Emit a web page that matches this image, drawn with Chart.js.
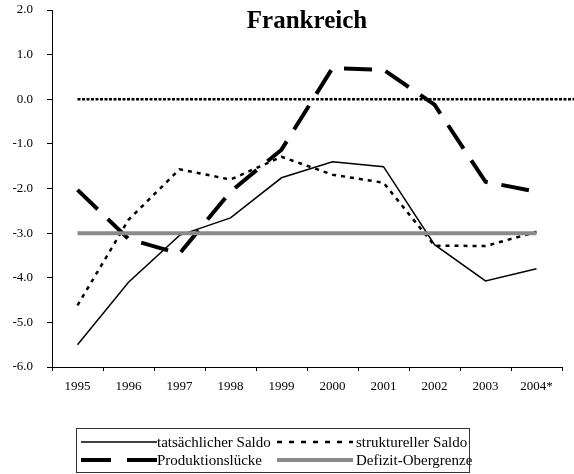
<!DOCTYPE html>
<html>
<head>
<meta charset="utf-8">
<script src="https://cdn.jsdelivr.net/npm/chart.js"></script>
<style>
  body { margin: 0; background: #fff; }
</style>
</head>
<body>
<canvas id="chartFrankreich" width="574" height="474"></canvas>
<script>
// Daten aus der Vorlage
var jahre = ['1995', '1996', '1997', '1998', '1999', '2000', '2001', '2002', '2003', '2004*'];
var tatsaechlicherSaldo = [-5.5, -4.1, -3.05, -2.66, -1.76, -1.4, -1.51, -3.26, -4.07, -3.8];
var strukturellerSaldo = [-4.62, -2.7, -1.57, -1.8, -1.29, -1.69, -1.87, -3.28, -3.29, -2.97];
var produktionsluecke = [-2.03, -3.13, -3.46, -2.07, -1.13, 0.7, 0.66, -0.12, -1.85, -2.07];
var defizitObergrenze = [-3, -3, -3, -3, -3, -3, -3, -3, -3, -3];
var nullLinie = 0;
var titel = 'Frankreich';

var schrift = "'Liberation Serif', 'DejaVu Serif', serif";

// Titel und Nulllinie (gepunktet, läuft bis zum rechten Rand)
var extrasPlugin = {
    id: 'extras',
    beforeDatasetsDraw: function (chart) {
        var ctx = chart.ctx;
        var x = chart.scales.x, y = chart.scales.y;
        ctx.save();
        ctx.strokeStyle = '#000';
        ctx.lineWidth = 2.5;
        ctx.setLineDash([3, 1.5]);
        ctx.beginPath();
        var y0 = y.getPixelForValue(nullLinie);
        ctx.moveTo(x.getPixelForValue(0), y0);
        ctx.lineTo(chart.width, y0);
        ctx.stroke();
        ctx.restore();
    },
    afterDraw: function (chart) {
        var ctx = chart.ctx;
        var area = chart.chartArea;
        ctx.save();
        ctx.fillStyle = '#000';
        ctx.font = 'bold 25px ' + schrift;
        ctx.textAlign = 'center';
        ctx.textBaseline = 'alphabetic';
        ctx.fillText(titel, (area.left + area.right) / 2, area.top + 18);
        ctx.restore();
    }
};

// Legende mit Rahmen unter dem Diagramm
var legendePlugin = {
    id: 'legende',
    afterDraw: function (chart) {
        var ctx = chart.ctx;
        var ds = chart.data.datasets;
        var box = { left: 76.5, top: 428.5, width: 393, height: 44 };
        var spalten = [81, 277];
        var zeilen = [442, 460];
        var laenge = 76;
        ctx.save();
        ctx.strokeStyle = '#333';
        ctx.lineWidth = 1;
        ctx.setLineDash([]);
        ctx.strokeRect(box.left, box.top, box.width, box.height);
        ctx.font = '15px ' + schrift;
        ctx.fillStyle = '#000';
        ctx.textBaseline = 'middle';
        ds.forEach(function (d, i) {
            var sx = spalten[i % 2];
            var sy = zeilen[Math.floor(i / 2)];
            ctx.save();
            ctx.strokeStyle = d.borderColor;
            ctx.lineWidth = d.borderWidth;
            ctx.setLineDash(d.legendDash || d.borderDash || []);
            ctx.beginPath();
            ctx.moveTo(sx, sy);
            ctx.lineTo(sx + laenge, sy);
            ctx.stroke();
            ctx.restore();
            ctx.fillText(d.label, sx + laenge + (i % 2 ? 3 : 0), sy + 1);
        });
        ctx.restore();
    }
};

var ctxFrankreich = document.getElementById('chartFrankreich').getContext('2d');
var chartFrankreich = new Chart(ctxFrankreich, {
    type: 'line',
    data: {
        labels: jahre,
        datasets: [{
            label: 'tatsächlicher Saldo',
            data: tatsaechlicherSaldo,
            borderColor: '#000',
            borderWidth: 1.5,
            order: 3
        }, {
            label: 'struktureller Saldo',
            data: strukturellerSaldo,
            borderColor: '#000',
            borderWidth: 2.5,
            borderDash: [4, 5],
            legendDash: [5, 7],
            order: 2
        }, {
            label: 'Produktionslücke',
            data: produktionsluecke,
            borderColor: '#000',
            borderWidth: 4,
            borderDash: [28, 14],
            legendDash: [30, 16],
            order: 1
        }, {
            label: 'Defizit-Obergrenze',
            data: defizitObergrenze,
            borderColor: '#8a8a8a',
            borderWidth: 4,
            order: 0
        }]
    },
    options: {
        responsive: false,
        animation: false,
        elements: {
            line: { tension: 0, fill: false, borderCapStyle: 'butt' },
            point: { radius: 0, hoverRadius: 0 }
        },
        layout: { padding: { top: 10, right: 12, bottom: 77, left: 0 } },
        plugins: {
            legend: { display: false },
            title: { display: false },
            tooltip: { enabled: false }
        },
        scales: {
            x: {
                offset: true,
                grid: {
                    offset: true,
                    drawOnChartArea: false,
                    color: '#000',
                    tickLength: 4
                },
                border: { color: '#000', width: 1 },
                ticks: {
                    color: '#000',
                    font: { family: schrift, size: 13 },
                    padding: 8,
                    maxRotation: 0,
                    autoSkip: false
                },
                afterFit: function (scale) { scale.height = 30; }
            },
            y: {
                min: -6,
                max: 2,
                grid: {
                    drawOnChartArea: false,
                    color: '#000',
                    tickLength: 5
                },
                border: { color: '#000', width: 1 },
                ticks: {
                    stepSize: 1,
                    color: '#000',
                    font: { family: schrift, size: 13 },
                    padding: 14,
                    callback: function (v) { return v.toFixed(1); }
                },
                afterFit: function (scale) {
                    scale.width = 52;
                    scale.paddingTop = 0;
                    scale.paddingBottom = 0;
                }
            }
        }
    },
    plugins: [extrasPlugin, legendePlugin]
});
</script>
</body>
</html>
